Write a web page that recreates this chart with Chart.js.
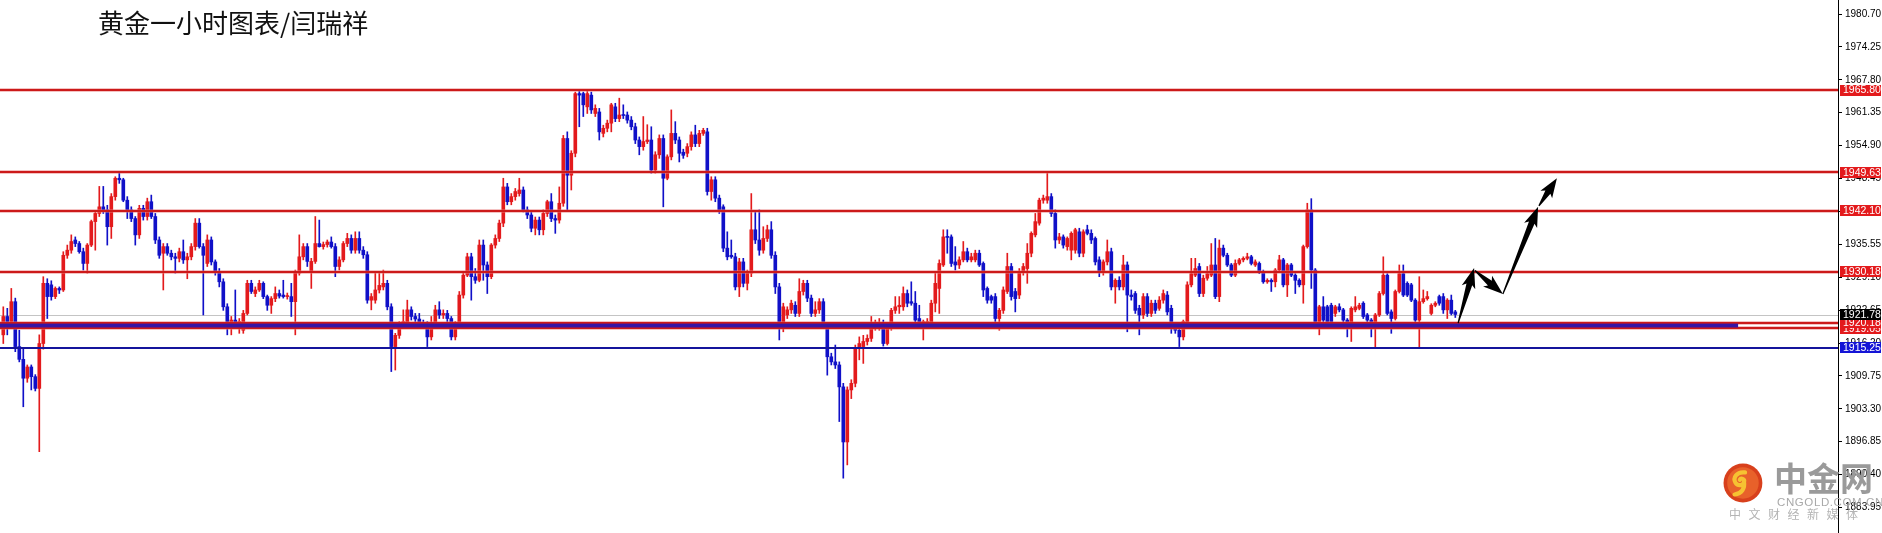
<!DOCTYPE html>
<html>
<head>
<meta charset="utf-8">
<title>黄金一小时图表</title>
<script src="https://cdn.jsdelivr.net/npm/chart.js@4.4.1/dist/chart.umd.min.js"></script>
<style>
  html, body { margin: 0; padding: 0; background: #fff; }
  #wrap { position: relative; width: 1882px; height: 533px; }
  #title {
    position: absolute; left: 98px; top: 9px;
    font: 26px "Noto Sans CJK SC", sans-serif; color: #111; line-height: 1;
  }
  #logo { position: absolute; left: 1723px; top: 463px; }
  #logoName {
    position: absolute; left: 1774px; top: 461px;
    font: bold 33px "Noto Sans CJK SC", sans-serif; color: #9a9a9a; line-height: 1;
  }
  #logoUrl {
    position: absolute; left: 1777px; top: 496px;
    font: 11.5px "Liberation Sans", sans-serif; color: #a9a9a9; letter-spacing: 0.6px;
  }
  #logoSub {
    position: absolute; left: 1729px; top: 508px;
    font: 12px "Noto Sans CJK SC", sans-serif; color: #b4b4b4; letter-spacing: 7.5px; line-height: 1;
  }
</style>
</head>
<body>
<div id="wrap">
  <canvas id="chart"></canvas>
  <div id="title">黄金一小时图表/闫瑞祥</div>
  <svg id="logo" width="42" height="42" viewBox="0 0 40 40">
    <circle cx="19" cy="19" r="18.5" fill="#d8401c"/>
    <circle cx="19" cy="19" r="15" fill="#e8612a"/>
    <path d="M21 9 C13 8 9 14 12 19 C14 22 19 22 20 18 C21 15 17 14 16 16 M20 18 C21 24 18 29 11 30"
          stroke="#f6c232" stroke-width="4" fill="none" stroke-linecap="round"/>
  </svg>
  <div id="logoName">中金网</div>
  <div id="logoUrl">CNGOLD.COM.CN</div>
  <div id="logoSub">中文财经新媒体</div>
</div>
<script>
// Gold 1H candles (one entry per hour)
const opens = [
  1917.8,1921.4,1920.4,1924.3,1915.5,1913.0,1909.3,1911.5,1909.6,1907.3,
  1916.1,1927.9,1927.6,1925.3,1926.9,1926.6,1933.4,1934.4,1936.4,1935.7,
  1934.1,1931.8,1935.4,1940.0,1941.6,1942.9,1942.3,1939.0,1944.9,1948.5,
  1948.2,1944.2,1942.3,1940.6,1937.4,1942.6,1941.0,1943.9,1941.0,1936.4,
  1933.8,1935.1,1933.8,1933.1,1932.8,1934.1,1932.5,1933.1,1935.1,1939.7,
  1935.1,1931.8,1936.4,1932.1,1930.2,1928.2,1923.3,1919.7,1920.7,1919.7,
  1918.7,1922.0,1927.9,1925.9,1926.6,1927.9,1925.3,1923.6,1924.9,1925.9,
  1925.6,1925.3,1925.3,1924.3,1929.9,1933.1,1935.1,1930.2,1932.2,1935.7,
  1935.1,1935.5,1936.0,1935.1,1931.2,1932.5,1935.7,1936.7,1934.4,1936.7,
  1934.4,1933.5,1924.6,1924.6,1926.6,1927.2,1927.9,1923.3,1915.5,1917.7,
  1920.0,1920.0,1922.7,1921.4,1920.9,1920.2,1920.0,1917.4,1919.7,1922.7,
  1921.7,1922.0,1921.0,1917.4,1919.7,1925.6,1929.5,1933.1,1929.2,1928.5,
  1935.4,1931.5,1929.2,1935.4,1936.7,1939.7,1946.8,1943.9,1944.9,1945.5,
  1946.2,1942.3,1941.3,1938.7,1940.3,1938.4,1941.6,1943.9,1940.6,1940.3,
  1943.6,1956.3,1949.1,1953.4,1965.1,1965.1,1962.5,1964.8,1961.2,1961.5,
  1957.3,1958.3,1959.3,1962.5,1960.2,1960.9,1960.9,1959.9,1958.6,1956.0,
  1954.7,1955.7,1956.0,1950.1,1953.1,1956.3,1948.5,1952.7,1957.3,1956.0,
  1953.6,1953.4,1954.7,1957.0,1955.3,1957.3,1957.6,1945.9,1948.2,1944.6,
  1942.9,1934.8,1933.4,1933.1,1927.2,1932.1,1927.9,1929.9,1938.4,1936.4,
  1934.4,1936.7,1938.4,1933.4,1927.2,1919.1,1921.7,1922.7,1923.6,1922.0,
  1926.3,1927.9,1925.0,1922.0,1922.7,1924.3,1919.1,1913.5,1912.5,1911.9,
  1907.6,1896.8,1907.0,1908.3,1915.2,1915.5,1916.5,1917.1,1919.4,1919.4,
  1920.1,1916.1,1919.4,1922.6,1923.3,1923.3,1925.9,1924.3,1924.0,1921.0,
  1919.7,1919.7,1920.1,1924.0,1926.9,1931.5,1937.1,1937.0,1932.1,1931.5,
  1932.5,1934.1,1932.5,1932.5,1933.8,1931.8,1926.9,1925.3,1925.3,1921.0,
  1922.6,1926.3,1931.2,1926.3,1925.6,1930.2,1930.8,1933.8,1937.4,1939.7,
  1944.2,1944.2,1944.9,1941.6,1936.4,1937.0,1935.1,1934.4,1934.4,1938.0,
  1933.8,1938.4,1937.7,1936.7,1932.5,1930.2,1932.1,1934.1,1927.2,1928.5,
  1927.2,1931.5,1925.6,1925.9,1923.0,1921.7,1925.3,1922.0,1924.0,1923.0,
  1924.6,1925.6,1923.0,1919.1,1918.7,1917.4,1920.4,1927.6,1929.5,1931.2,
  1925.9,1928.9,1929.5,1931.5,1925.3,1934.8,1933.4,1931.5,1929.5,1931.8,
  1932.5,1932.8,1933.1,1931.5,1931.8,1930.2,1928.2,1928.5,1928.2,1930.5,
  1932.5,1927.6,1931.5,1929.5,1928.5,1927.6,1935.1,1942.3,1930.5,1920.4,
  1923.3,1923.3,1923.6,1922.0,1923.3,1922.7,1920.7,1920.0,1922.7,1923.0,
  1924.0,1921.7,1920.7,1920.0,1921.7,1925.9,1929.5,1922.3,1921.0,1926.3,
  1929.8,1927.9,1927.6,1924.6,1920.7,1924.3,1924.9,1922.0,1923.6,1925.3,
  1925.3,1922.7,1924.6,1922.3
];
const highs = [
  1923.3,1923.0,1926.9,1925.0,1918.7,1915.1,1911.9,1911.9,1910.0,1917.8,
  1929.2,1928.8,1928.4,1927.2,1927.2,1934.1,1935.4,1937.4,1937.0,1936.1,
  1934.8,1935.7,1940.3,1942.0,1946.9,1946.9,1943.2,1945.5,1948.8,1949.5,
  1948.5,1944.9,1942.9,1941.0,1943.2,1943.2,1944.6,1945.2,1941.6,1937.0,
  1935.7,1935.7,1934.4,1933.8,1934.8,1936.4,1933.8,1935.7,1940.6,1940.6,
  1935.7,1937.4,1937.0,1932.5,1930.8,1928.8,1923.9,1921.4,1926.6,1921.0,
  1922.6,1928.5,1928.5,1927.2,1928.5,1928.2,1925.6,1925.3,1927.2,1926.6,
  1928.5,1926.0,1927.9,1930.5,1937.4,1935.7,1935.7,1932.8,1941.0,1940.3,
  1936.0,1936.4,1937.0,1935.7,1933.1,1936.1,1937.7,1937.4,1938.0,1938.0,
  1935.1,1934.1,1925.9,1929.9,1929.9,1930.5,1928.5,1923.9,1918.1,1920.4,
  1922.7,1924.6,1923.3,1922.0,1922.0,1920.7,1920.4,1921.4,1923.6,1924.3,
  1922.7,1922.6,1921.4,1920.4,1926.3,1930.2,1933.8,1933.8,1930.8,1936.4,
  1936.4,1932.1,1935.7,1937.4,1940.3,1948.5,1947.5,1945.5,1946.5,1948.5,
  1946.8,1942.9,1941.9,1940.9,1940.9,1942.3,1944.2,1945.5,1941.3,1946.8,
  1956.9,1957.6,1953.9,1965.4,1965.8,1965.4,1965.8,1965.4,1962.9,1962.2,
  1958.9,1959.9,1963.2,1963.2,1964.2,1962.9,1961.5,1960.6,1959.3,1956.6,
  1960.6,1959.0,1958.6,1953.7,1957.0,1957.0,1953.1,1961.9,1959.6,1956.6,
  1954.2,1955.3,1957.6,1958.9,1957.9,1958.3,1958.3,1948.8,1948.8,1945.2,
  1943.3,1938.0,1936.4,1933.8,1932.8,1932.8,1930.5,1945.5,1941.9,1942.3,
  1939.0,1939.3,1940.0,1934.1,1927.9,1924.0,1923.3,1924.6,1924.3,1928.8,
  1928.5,1928.5,1925.6,1924.3,1924.9,1924.9,1919.7,1914.2,1915.8,1912.5,
  1908.3,1907.6,1909.0,1915.8,1917.4,1917.7,1917.8,1921.4,1920.7,1921.0,
  1920.7,1919.7,1923.0,1925.3,1925.3,1927.2,1926.6,1928.2,1926.3,1923.6,
  1920.7,1921.0,1924.6,1930.2,1932.5,1938.4,1938.4,1937.4,1935.1,1933.1,
  1936.1,1934.8,1933.8,1934.4,1934.4,1932.1,1927.2,1925.6,1925.9,1923.0,
  1927.2,1933.8,1931.8,1926.9,1930.8,1931.8,1935.7,1938.0,1941.6,1944.6,
  1945.2,1949.8,1945.5,1942.3,1937.7,1937.4,1937.0,1938.0,1938.7,1938.7,
  1938.4,1939.3,1938.4,1937.0,1933.1,1932.5,1936.4,1934.8,1928.8,1929.2,
  1933.4,1932.1,1926.6,1926.3,1923.6,1925.9,1925.9,1924.6,1924.6,1925.3,
  1926.6,1926.3,1923.6,1919.7,1919.4,1920.7,1928.2,1932.8,1932.8,1931.8,
  1929.5,1931.2,1935.7,1936.7,1936.4,1935.4,1933.8,1931.8,1932.5,1932.8,
  1933.1,1933.8,1933.4,1932.5,1932.1,1930.5,1928.8,1928.8,1930.8,1933.4,
  1932.8,1931.8,1931.8,1929.8,1928.8,1935.4,1943.6,1944.5,1930.8,1923.6,
  1925.3,1923.6,1924.0,1923.6,1923.9,1923.0,1921.0,1923.3,1925.3,1924.0,
  1924.3,1922.0,1921.0,1922.0,1926.3,1933.1,1929.8,1922.7,1926.6,1931.5,
  1931.5,1928.2,1927.9,1924.9,1929.2,1926.6,1926.3,1923.9,1924.3,1925.6,
  1925.9,1924.9,1925.6,1922.6
];
const lows = [
  1916.1,1917.8,1919.7,1914.5,1912.5,1903.7,1908.5,1907.0,1906.8,1894.9,
  1915.0,1921.0,1924.6,1924.9,1925.9,1926.3,1932.8,1933.8,1935.1,1933.8,
  1930.5,1929.9,1935.1,1934.4,1941.0,1941.6,1935.4,1936.7,1944.2,1947.5,
  1943.9,1940.6,1940.0,1935.4,1936.7,1940.3,1940.3,1940.6,1935.7,1932.8,
  1926.6,1933.4,1932.5,1929.9,1932.1,1931.8,1928.8,1932.5,1934.4,1934.8,
  1921.7,1931.2,1931.5,1929.5,1927.2,1922.6,1917.8,1917.8,1919.4,1918.1,
  1918.1,1921.7,1925.9,1925.3,1926.3,1924.9,1922.6,1922.0,1924.3,1925.0,
  1925.0,1924.8,1921.4,1917.8,1929.5,1932.5,1931.2,1926.9,1931.8,1935.0,
  1934.6,1935.0,1934.8,1929.2,1930.5,1932.1,1935.1,1933.8,1933.8,1933.8,
  1932.8,1924.0,1922.7,1924.0,1926.0,1926.6,1922.7,1910.6,1910.9,1917.1,
  1919.4,1919.7,1920.7,1920.4,1919.4,1919.4,1915.5,1916.8,1919.1,1921.0,
  1921.0,1920.4,1916.8,1916.8,1919.1,1925.0,1929.2,1924.6,1927.9,1928.2,
  1928.5,1925.9,1928.8,1934.8,1936.1,1939.0,1943.3,1943.3,1944.2,1945.0,
  1941.9,1940.6,1938.0,1937.4,1937.4,1937.4,1941.0,1940.0,1937.7,1939.7,
  1943.0,1942.3,1946.2,1952.7,1958.6,1960.6,1961.2,1961.2,1960.6,1956.0,
  1956.6,1957.6,1957.6,1959.6,1959.6,1960.2,1959.3,1958.0,1955.3,1953.1,
  1954.0,1955.3,1949.5,1949.5,1952.4,1942.9,1948.2,1952.1,1955.3,1951.7,
  1952.4,1952.7,1954.0,1954.7,1954.7,1956.9,1945.2,1944.2,1943.9,1941.6,
  1934.1,1932.5,1932.8,1926.6,1925.3,1927.2,1926.6,1929.2,1935.7,1933.4,
  1933.8,1936.1,1932.8,1925.9,1916.8,1918.4,1921.0,1922.0,1921.4,1921.4,
  1925.6,1924.3,1921.4,1921.4,1922.0,1919.7,1909.9,1911.9,1911.2,1900.8,
  1889.7,1892.3,1905.3,1907.6,1912.9,1912.2,1915.8,1916.5,1918.7,1918.7,
  1915.6,1915.8,1918.7,1922.0,1922.0,1922.6,1923.3,1923.6,1920.1,1920.1,
  1916.8,1919.1,1919.7,1922.3,1922.0,1931.2,1933.8,1931.2,1930.5,1930.8,
  1932.1,1932.1,1932.1,1932.1,1931.2,1925.3,1924.0,1924.0,1920.4,1918.7,
  1922.0,1925.9,1924.6,1922.3,1924.9,1929.5,1927.9,1933.1,1937.0,1939.3,
  1943.6,1943.6,1941.0,1934.8,1935.7,1934.8,1934.4,1932.5,1933.8,1933.1,
  1933.1,1937.4,1935.7,1931.5,1929.2,1929.5,1931.5,1926.6,1924.0,1926.6,
  1926.6,1918.4,1924.6,1922.0,1917.8,1921.0,1921.4,1921.4,1922.0,1922.6,
  1924.0,1921.7,1918.1,1918.1,1915.5,1916.8,1920.0,1927.2,1929.2,1925.3,
  1925.3,1928.5,1929.2,1924.9,1924.3,1933.1,1931.2,1929.2,1929.2,1931.5,
  1932.1,1932.5,1931.5,1931.2,1929.8,1927.9,1927.9,1926.3,1927.2,1930.2,
  1927.2,1925.3,1929.2,1925.9,1927.2,1924.0,1934.8,1926.9,1919.7,1917.8,
  1920.4,1919.7,1919.7,1921.4,1922.3,1920.4,1917.4,1916.5,1922.3,1922.7,
  1921.0,1920.4,1917.4,1915.1,1921.4,1925.6,1921.7,1918.1,1920.7,1926.0,
  1925.3,1925.3,1924.3,1920.4,1915.1,1924.0,1924.6,1921.7,1923.3,1923.6,
  1922.0,1921.0,1921.7,1921.2
];
const closes = [
  1921.4,1920.4,1924.3,1915.5,1913.0,1909.3,1911.5,1909.6,1907.3,1916.1,
  1927.9,1925.3,1925.3,1926.9,1926.6,1933.4,1934.4,1936.1,1935.7,1934.1,
  1931.8,1935.4,1940.0,1941.6,1942.9,1942.3,1939.0,1944.9,1948.5,1948.2,
  1944.2,1942.3,1940.6,1937.4,1942.6,1941.0,1943.9,1941.0,1936.4,1933.4,
  1935.1,1933.8,1933.1,1932.8,1934.1,1932.5,1933.1,1935.1,1939.7,1935.1,
  1933.4,1936.4,1932.1,1930.2,1928.2,1923.3,1920.4,1920.7,1919.7,1920.4,
  1922.0,1927.9,1926.3,1926.6,1927.9,1925.3,1923.6,1924.9,1925.9,1925.4,
  1925.3,1925.5,1924.3,1929.9,1933.1,1935.1,1932.2,1932.2,1935.7,1935.1,
  1935.5,1936.0,1935.1,1931.2,1932.5,1935.7,1936.7,1934.4,1936.7,1934.4,
  1933.5,1924.6,1925.3,1926.6,1927.5,1927.9,1923.3,1915.5,1917.7,1920.0,
  1920.4,1922.7,1921.4,1920.9,1920.2,1920.0,1917.4,1919.7,1922.7,1921.7,
  1922.0,1921.0,1917.4,1919.7,1925.6,1929.5,1933.1,1929.2,1928.5,1935.4,
  1931.5,1929.2,1935.4,1936.7,1939.7,1946.8,1943.9,1944.9,1945.9,1946.2,
  1942.3,1941.3,1938.7,1940.3,1938.4,1941.6,1943.9,1940.6,1940.3,1943.6,
  1956.3,1949.1,1953.4,1965.1,1964.8,1962.9,1965.1,1961.9,1962.2,1957.6,
  1958.3,1959.3,1962.9,1960.2,1960.9,1960.8,1959.9,1958.6,1956.0,1954.7,
  1955.7,1956.0,1950.1,1953.1,1956.3,1948.5,1952.7,1957.3,1956.0,1953.4,
  1953.0,1954.7,1957.0,1955.3,1957.3,1957.9,1945.9,1948.2,1944.6,1942.3,
  1934.8,1933.1,1933.1,1927.2,1932.1,1927.9,1929.9,1938.4,1936.4,1934.4,
  1936.7,1938.4,1933.4,1927.2,1920.4,1923.3,1922.7,1924.0,1922.0,1926.3,
  1927.9,1925.0,1922.0,1922.7,1924.3,1920.4,1913.5,1912.5,1911.9,1907.6,
  1896.8,1907.0,1908.3,1915.2,1916.1,1916.5,1917.1,1920.0,1920.1,1920.1,
  1916.1,1919.4,1922.6,1923.3,1923.6,1925.9,1924.0,1924.0,1920.7,1920.4,
  1920.4,1920.4,1924.0,1927.9,1931.8,1937.0,1936.9,1931.8,1931.5,1932.5,
  1934.1,1932.5,1933.1,1933.8,1931.5,1926.6,1924.6,1924.6,1921.0,1922.6,
  1926.6,1931.2,1925.3,1924.9,1930.2,1931.2,1933.8,1937.7,1940.0,1944.2,
  1944.6,1944.9,1941.6,1936.4,1937.0,1935.4,1936.7,1937.7,1938.4,1933.8,
  1938.0,1937.7,1936.4,1932.1,1930.2,1932.1,1934.1,1927.2,1928.5,1927.2,
  1931.5,1925.6,1925.3,1922.6,1921.7,1925.3,1922.0,1924.0,1922.6,1924.6,
  1925.9,1922.3,1920.4,1918.7,1917.4,1920.4,1927.6,1929.8,1930.8,1925.9,
  1928.9,1929.8,1931.5,1925.3,1934.8,1933.4,1931.5,1929.5,1931.8,1932.5,
  1932.8,1933.1,1931.8,1932.1,1930.2,1928.2,1928.5,1928.2,1930.5,1932.5,
  1927.6,1931.5,1929.5,1928.5,1927.6,1935.1,1942.3,1930.5,1920.4,1923.3,
  1920.7,1920.4,1920.4,1923.3,1922.7,1920.7,1920.0,1923.0,1923.3,1923.6,
  1921.4,1920.7,1920.4,1921.7,1925.9,1929.5,1922.0,1921.0,1926.3,1929.8,
  1925.6,1925.6,1924.6,1920.7,1924.3,1924.9,1925.3,1923.6,1924.0,1924.0,
  1922.7,1924.6,1922.0,1921.8
];

// right price axis
const tickVals = [1883.95, 1890.40, 1896.85, 1903.30, 1909.75, 1916.20, 1922.65, 1929.10,
                  1935.55, 1942.00, 1948.45, 1954.90, 1961.35, 1967.80, 1974.25, 1980.70];
const yMin = 1878.95, yMax = 1983.45;

// drawn levels
const redLevels = [1965.80, 1949.63, 1942.10, 1930.18, 1920.18, 1919.05];
const blueLevel = 1915.25;
const bidLevel = 1921.78;
const bandTop = 1920.00, bandBottom = 1919.25, bandEnd = 433.7; // thick zone, ends before axis

// forecast arrows: [fromIndex, fromPrice, toIndex, toPrice]
const arrows = [
  [363.7, 1920.1, 367.7, 1930.9],
  [367.9, 1930.4, 374.9, 1925.8],
  [374.9, 1925.8, 383.7, 1942.9],
  [383.9, 1943.1, 388.4, 1948.5]
];

const RED = '#e31a1c';
const BLUE = '#1010c8';
const upColor = ctx => closes[ctx.dataIndex] >= opens[ctx.dataIndex] ? RED : BLUE;

const bodies = opens.map((o, i) => ({ x: i, y: [o, closes[i]] }));
const wicks = lows.map((l, i) => ({ x: i, y: [l, highs[i]] }));

function hline(ctx, x0, x1, py) {
  ctx.beginPath(); ctx.moveTo(x0, py); ctx.lineTo(x1, py); ctx.stroke();
}

const levelsPlugin = {
  id: 'levels',
  beforeDatasetsDraw(chart) {
    const { ctx, chartArea: a, scales: { y } } = chart;
    ctx.save();
    ctx.strokeStyle = '#c4c4c4';
    ctx.lineWidth = 1;
    hline(ctx, a.left, a.right, Math.round(y.getPixelForValue(bidLevel)) + 0.5);
    ctx.restore();
  },
  afterDatasetsDraw(chart) {
    const { ctx, chartArea: a, scales: { x, y } } = chart;
    ctx.save();
    // red levels: soft halo, then the line
    redLevels.forEach(v => {
      const py = Math.round(y.getPixelForValue(v));
      ctx.strokeStyle = 'rgba(230,120,120,0.45)';
      ctx.lineWidth = 4;
      hline(ctx, a.left, a.right, py);
      ctx.strokeStyle = '#cc1a1a';
      ctx.lineWidth = 2;
      hline(ctx, a.left, a.right, py);
    });
    // thick blue zone
    const t = y.getPixelForValue(bandTop), b = y.getPixelForValue(bandBottom);
    ctx.fillStyle = '#3514a6';
    ctx.fillRect(a.left, t, x.getPixelForValue(bandEnd) - a.left, b - t);
    ctx.strokeStyle = '#14149c';
    ctx.lineWidth = 2;
    hline(ctx, a.left, a.right, Math.round(y.getPixelForValue(blueLevel)));

    // arrows
    ctx.fillStyle = '#000';
    arrows.forEach(([i0, p0, i1, p1]) => {
      const x0 = x.getPixelForValue(i0), y0 = y.getPixelForValue(p0);
      const x1 = x.getPixelForValue(i1), y1 = y.getPixelForValue(p1);
      const dx = x1 - x0, dy = y1 - y0, len = Math.hypot(dx, dy);
      const ux = dx / len, uy = dy / len, nx = -uy, ny = ux;
      const head = Math.min(17, len * 0.5), hw = 7, sw = 3;
      const bx = x1 - ux * head, by = y1 - uy * head;
      ctx.beginPath();
      ctx.moveTo(x0 + nx * 0.6, y0 + ny * 0.6);
      ctx.lineTo(bx + nx * sw, by + ny * sw);
      ctx.lineTo(bx + nx * hw - ux * 3, by + ny * hw - uy * 3);
      ctx.lineTo(x1, y1);
      ctx.lineTo(bx - nx * hw - ux * 3, by - ny * hw - uy * 3);
      ctx.lineTo(bx - nx * sw, by - ny * sw);
      ctx.lineTo(x0 - nx * 0.6, y0 - ny * 0.6);
      ctx.closePath();
      ctx.fill();
    });
    ctx.restore();
  },
  afterDraw(chart) {
    const { ctx, chartArea: a, scales: { y } } = chart;
    const boxes = [
      [1919.05, RED], [1920.18, RED], [bidLevel, '#000'], [1930.18, RED],
      [1942.10, RED], [1949.63, RED], [1965.80, RED], [blueLevel, '#1414d6']
    ];
    ctx.save();
    ctx.font = '10.5px "Liberation Sans", sans-serif';
    ctx.textBaseline = 'middle';
    ctx.textAlign = 'left';
    boxes.forEach(([v, c]) => {
      const py = y.getPixelForValue(v);
      ctx.fillStyle = c;
      ctx.fillRect(a.right + 2, Math.round(py - 5.5), 41, 11);
      ctx.fillStyle = '#fff';
      ctx.fillText(v.toFixed(2), a.right + 5, py + 0.5);
    });
    ctx.restore();
  }
};

new Chart(document.getElementById('chart'), {
  type: 'bar',
  data: {
    datasets: [
      { data: bodies, backgroundColor: upColor, barThickness: 3, minBarLength: 1, grouped: false, borderWidth: 0 },
      { data: wicks, backgroundColor: upColor, barThickness: 1, grouped: false, borderWidth: 0 }
    ]
  },
  options: {
    responsive: true,
    maintainAspectRatio: false,
    animation: false,
    layout: { padding: 0 },
    plugins: { legend: { display: false }, tooltip: { enabled: false }, title: { display: false } },
    scales: {
      x: { type: 'linear', min: -0.825, max: 458.675, display: false, offset: false },
      y: {
        position: 'right',
        min: yMin,
        max: yMax,
        afterBuildTicks: s => { s.ticks = tickVals.map(v => ({ value: v })); },
        afterFit: s => { s.width = 44; s.paddingTop = 0; s.paddingBottom = 0; },
        grid: { drawOnChartArea: false, drawTicks: true, tickLength: 4, color: '#000' },
        border: { display: true, color: '#000', width: 1 },
        ticks: {
          padding: 3,
          color: '#000',
          font: { family: '"Liberation Sans", sans-serif', size: 10 },
          callback: v => Number(v).toFixed(2)
        }
      }
    }
  },
  plugins: [levelsPlugin]
});
</script>
</body>
</html>
